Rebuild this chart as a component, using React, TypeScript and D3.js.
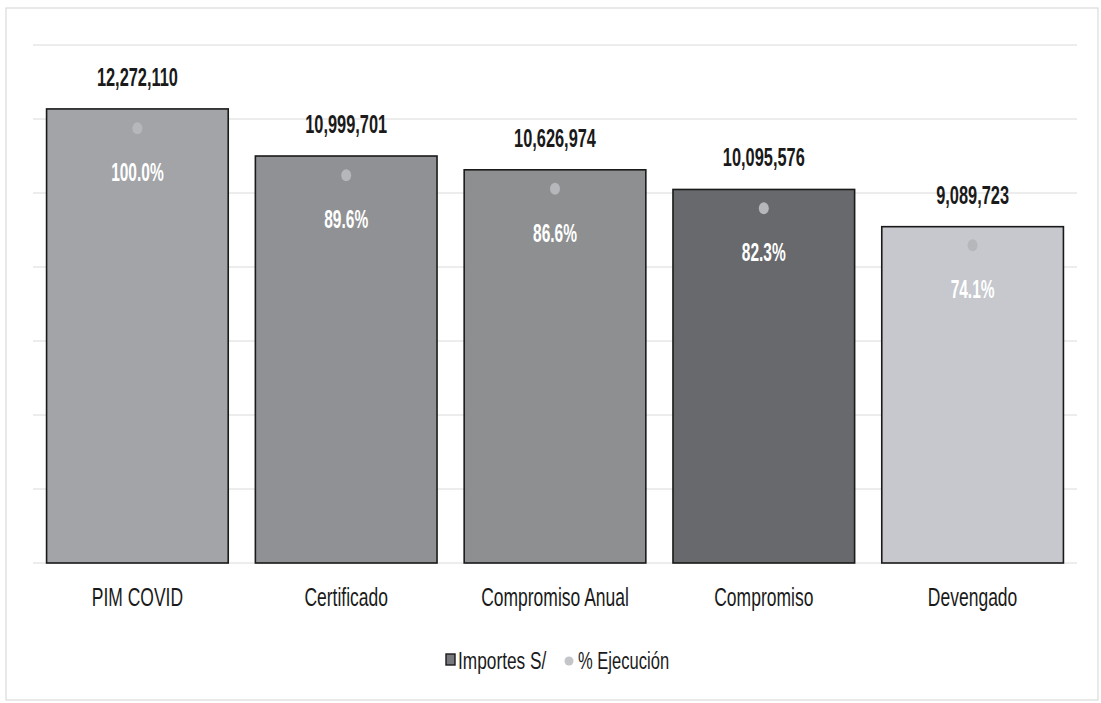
import { useEffect } from "react";
import * as d3 from "d3";

const categories = ["PIM COVID", "Certificado", "Compromiso Anual", "Compromiso", "Devengado"];
const importes = [12272110, 10999701, 10626974, 10095576, 9089723];
const ejecucion = [100.0, 89.6, 86.6, 82.3, 74.1];
const barColors = ["#a2a4a8", "#8f9194", "#8d8f91", "#67696c", "#c6c8cd"];
const yTicks = [0, 2e6, 4e6, 6e6, 8e6, 10e6, 12e6, 14e6];

const W = 1101;
const H = 703;
const margin = { top: 45, right: 24, bottom: 140, left: 33 };
// the original uses a very condensed face; squeeze Liberation Sans horizontally
const FONT = "'Liberation Sans', Arial, sans-serif";

const App = () => {
  useEffect(() => {
    document.body.style.margin = "0";
  }, []);

  const x = d3
    .scaleBand()
    .domain(categories)
    .range([margin.left, W - margin.right])
    .paddingInner(0.13)
    .paddingOuter(0.065);

  const y = d3
    .scaleLinear()
    .domain([0, 14e6])
    .range([H - margin.bottom, margin.top]);

  // secondary axis for % ejecución (Excel auto range, not starting at 0)
  const yPct = d3
    .scaleLinear()
    .domain([3.8, 118.4])
    .range([H - margin.bottom, margin.top]);

  const fmt = d3.format(",");
  const cx = (c: string) => (x(c) ?? 0) + x.bandwidth() / 2;

  return (
    <svg width={W} height={H} style={{ display: "block", background: "white" }}>
      <rect x={6} y={8} width={1092} height={692} fill="none" stroke="#d4d4d4" strokeWidth={1} />

      {/* grid */}
      <g>
        {yTicks.map((t) => (
          <line
            key={t}
            x1={margin.left}
            x2={W - margin.right}
            y1={y(t)}
            y2={y(t)}
            stroke="#dadada"
            strokeWidth={1}
          />
        ))}
      </g>

      {/* bars */}
      <g>
        {categories.map((c, i) => (
          <rect
            key={c}
            x={x(c)}
            y={y(importes[i])}
            width={x.bandwidth()}
            height={y(0) - y(importes[i])}
            fill={barColors[i]}
            stroke="#1a1a1a"
            strokeWidth={1.6}
          />
        ))}
      </g>

      {/* value labels */}
      <g fontFamily={FONT} fontWeight="bold" fill="#1a1a1a" textAnchor="middle">
        {categories.map((c, i) => (
          <text
            key={c}
            transform={`translate(${cx(c)},${y(importes[i]) - 23}) scale(0.63,1)`}
            fontSize={26}
          >
            {fmt(importes[i])}
          </text>
        ))}
      </g>

      {/* % ejecución points */}
      <g>
        {categories.map((c, i) => (
          <ellipse key={c} cx={cx(c)} cy={yPct(ejecucion[i])} rx={5} ry={6} fill="#b6b7bb" />
        ))}
      </g>

      <g fontFamily={FONT} fontWeight="bold" fill="#ffffff" textAnchor="middle">
        {categories.map((c, i) => (
          <text
            key={c}
            transform={`translate(${cx(c)},${yPct(ejecucion[i]) + 53}) scale(0.62,1)`}
            fontSize={25}
          >
            {ejecucion[i].toFixed(1)}%
          </text>
        ))}
      </g>

      {/* x axis labels */}
      <g fontFamily={FONT} fill="#1a1a1a" textAnchor="middle">
        {categories.map((c) => (
          <text key={c} transform={`translate(${cx(c)},${y(0) + 43}) scale(0.7,1)`} fontSize={25}>
            {c}
          </text>
        ))}
      </g>

      {/* legend */}
      <g fontFamily={FONT} fill="#1a1a1a" fontSize={24}>
        <rect x={446} y={654} width={9} height={11} fill="#77797c" stroke="#1a1a1a" strokeWidth={1.4} />
        <text transform="translate(458,669) scale(0.72,1)">Importes S/</text>
        <circle cx={569} cy={661} r={4.5} fill="#c4c5c9" />
        <text transform="translate(578,669) scale(0.69,1)">% Ejecución</text>
      </g>
    </svg>
  );
};

export default App;
